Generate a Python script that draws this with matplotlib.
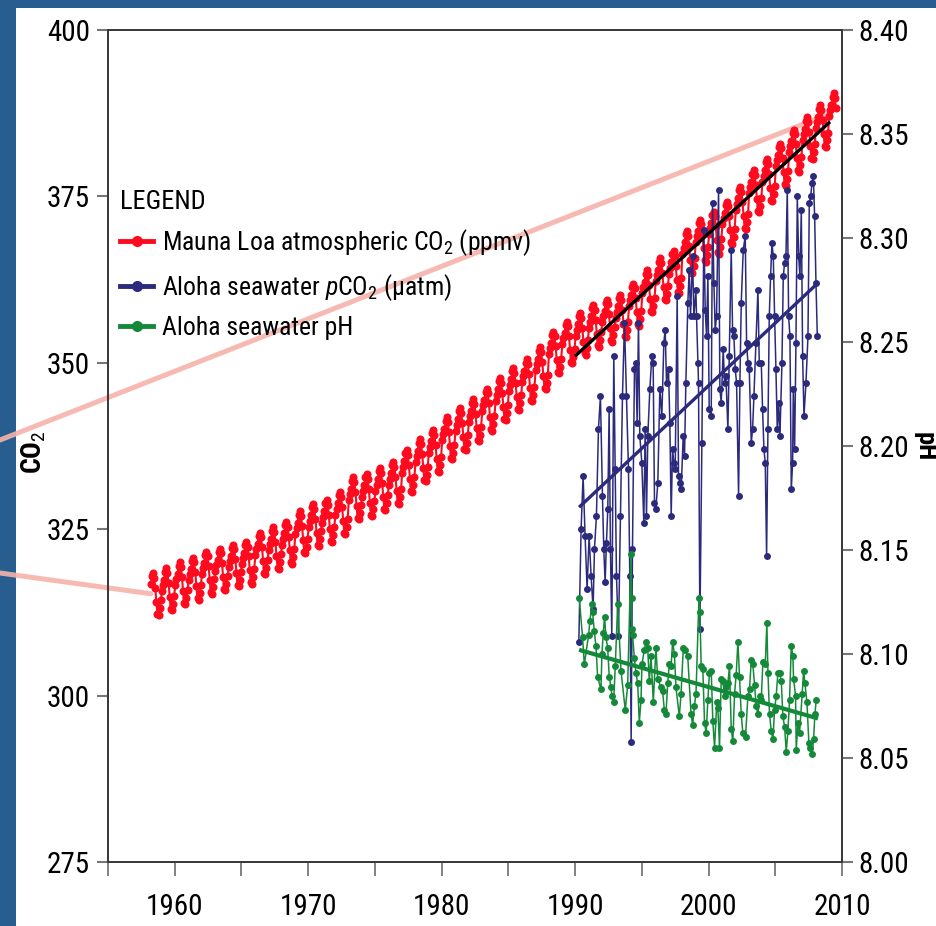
import numpy as np
import matplotlib
matplotlib.use("Agg")
import matplotlib.pyplot as plt
from matplotlib import font_manager
from matplotlib.lines import Line2D
from matplotlib.patches import Rectangle, ConnectionPatch

# ---- data ----
# Mauna Loa: annual means (ppmv) + mean seasonal offsets (Jan..Dec)
co2_years = list(range(1958, 2010))
co2_annual = [315.3, 316.0, 316.9, 317.6, 318.5, 319.0, 319.6, 320.0, 321.4, 322.2,
              323.0, 324.6, 325.7, 326.3, 327.5, 329.7, 330.2, 331.1, 332.0, 333.8,
              335.4, 336.8, 338.7, 340.1, 341.4, 343.0, 344.6, 346.1, 347.4, 349.2,
              351.6, 353.1, 354.4, 355.6, 356.4, 357.1, 358.8, 360.8, 362.6, 363.7,
              366.7, 368.4, 369.6, 371.1, 373.3, 375.8, 377.5, 379.8, 381.9, 383.8,
              385.6, 387.4]
co2_season = [-0.3, 0.6, 1.4, 2.6, 3.1, 2.4, 0.9, -1.2, -3.0, -3.2, -2.2, -1.0]
co2_first_month = 2   # March 1958
co2_last_month = 6    # July 2009

# Aloha seawater pCO2 (uatm)
pco2_years = [1990.28, 1990.45, 1990.6, 1990.75, 1990.9, 1991.05, 1991.2, 1991.35, 1991.45, 1991.6,
              1991.75, 1991.9, 1992.05, 1992.15, 1992.25, 1992.35, 1992.45, 1992.55, 1992.65, 1992.75,
              1992.9, 1993.0, 1993.1, 1993.25, 1993.4, 1993.55, 1993.7, 1993.85, 1994.0, 1994.1,
              1994.2, 1994.3, 1994.45, 1994.55, 1994.65, 1994.75, 1994.85, 1995.0, 1995.15, 1995.25,
              1995.35, 1995.45, 1995.6, 1995.75, 1995.85, 1995.95, 1996.05, 1996.2, 1996.35, 1996.5,
              1996.65, 1996.75, 1996.85, 1997.0, 1997.1, 1997.2, 1997.3, 1997.4, 1997.5, 1997.65,
              1997.75, 1997.85, 1997.95, 1998.1, 1998.2, 1998.3, 1998.45, 1998.55, 1998.65, 1998.8,
              1998.9, 1999.05, 1999.1, 1999.2, 1999.25, 1999.35, 1999.5, 1999.65, 1999.75, 1999.85,
              1999.95, 2000.05, 2000.2, 2000.3, 2000.4, 2000.5, 2000.6, 2000.75, 2000.85, 2000.95,
              2001.1, 2001.2, 2001.3, 2001.45, 2001.55, 2001.7, 2001.8, 2001.9, 2002.0, 2002.1,
              2002.25, 2002.35, 2002.45, 2002.6, 2002.75, 2002.85, 2002.95, 2003.05, 2003.2, 2003.3,
              2003.4, 2003.55, 2003.7, 2003.8, 2003.95, 2004.05, 2004.15, 2004.25, 2004.35, 2004.45,
              2004.55, 2004.65, 2004.75, 2004.85, 2004.95, 2005.05, 2005.15, 2005.25, 2005.35, 2005.5,
              2005.6, 2005.7, 2005.8, 2005.9, 2006.0, 2006.1, 2006.2, 2006.3, 2006.35, 2006.45,
              2006.55, 2006.65, 2006.75, 2006.85, 2006.95, 2007.05, 2007.15, 2007.3, 2007.45, 2007.55,
              2007.65, 2007.75, 2007.85, 2007.95, 2008.05, 2008.15]
pco2_vals = [308, 325, 333, 324, 316, 324, 318, 313, 322, 327,
             340, 345, 330, 322, 317, 323, 328, 343, 322, 309,
             351, 334, 318, 309, 327, 345, 356, 345, 334, 318,
             293, 322, 349, 350, 341, 356, 339, 335, 326, 340,
             327, 339, 346, 351, 350, 329, 328, 332, 346, 342,
             353, 355, 347, 349, 341, 327, 337, 335, 334, 360,
             333, 332, 331, 339, 336, 347, 359, 364, 357, 366,
             357, 361, 357, 350, 347, 310, 338, 370, 358, 354,
             363, 343, 342, 374, 362, 355, 357, 376, 346, 344,
             352, 347, 348, 340, 351, 367, 355, 354, 349, 347,
             330, 347, 359, 367, 369, 353, 350, 349, 338, 340,
             345, 353, 361, 350, 350, 343, 337, 335, 321, 340,
             357, 363, 368, 366, 357, 349, 340, 344, 339, 350,
             363, 365, 366, 376, 357, 354, 331, 335, 346, 337,
             353, 375, 366, 363, 373, 351, 342, 347, 354, 374,
             375, 377, 378, 372, 362, 354]

# Aloha seawater pH
ph_years = [1990.31, 1990.56, 1990.69, 1991.01, 1991.11, 1991.26, 1991.31, 1991.44, 1991.56, 1991.69,
            1991.94, 1992.01, 1992.11, 1992.21, 1992.31, 1992.44, 1992.56, 1992.69, 1992.76, 1992.89,
            1993.01, 1993.19, 1993.44, 1993.76, 1993.94, 1994.19, 1994.24, 1994.26, 1994.31, 1994.44,
            1994.56, 1994.69, 1994.81, 1994.94, 1995.01, 1995.19, 1995.31, 1995.44, 1995.56, 1995.69,
            1995.86, 1996.06, 1996.19, 1996.44, 1996.56, 1996.69, 1996.81, 1996.94, 1997.06, 1997.19,
            1997.31, 1997.44, 1997.56, 1997.81, 1997.94, 1998.11, 1998.26, 1998.44, 1998.69, 1998.81,
            1998.94, 1999.06, 1999.28, 1999.35, 1999.45, 1999.57, 1999.70, 1999.82, 1999.95, 2000.07,
            2000.20, 2000.32, 2000.45, 2000.62, 2000.70, 2000.82, 2000.95, 2001.07, 2001.20, 2001.32,
            2001.45, 2001.57, 2001.70, 2001.82, 2001.95, 2002.07, 2002.20, 2002.32, 2002.45, 2002.57,
            2002.77, 2002.95, 2003.07, 2003.20, 2003.32, 2003.45, 2003.57, 2003.70, 2003.82, 2003.95,
            2004.07, 2004.25, 2004.37, 2004.45, 2004.57, 2004.70, 2004.82, 2004.95, 2005.07, 2005.20,
            2005.32, 2005.45, 2005.57, 2005.70, 2005.82, 2005.95, 2006.07, 2006.20, 2006.32, 2006.37,
            2006.52, 2006.57, 2006.70, 2006.82, 2007.02, 2007.12, 2007.22, 2007.37, 2007.52, 2007.62,
            2007.77, 2007.87, 2007.97, 2008.07]
ph_vals = [8.127, 8.108, 8.095, 8.109, 8.116, 8.124, 8.120, 8.111, 8.104, 8.089,
           8.083, 8.100, 8.110, 8.118, 8.108, 8.103, 8.089, 8.084, 8.080, 8.077,
           8.094, 8.124, 8.092, 8.073, 8.085, 8.148, 8.127, 8.112, 8.109, 8.098,
           8.091, 8.086, 8.067, 8.078, 8.095, 8.102, 8.106, 8.103, 8.087, 8.099,
           8.077, 8.103, 8.088, 8.084, 8.082, 8.073, 8.071, 8.086, 8.095, 8.094,
           8.106, 8.100, 8.084, 8.070, 8.081, 8.103, 8.102, 8.099, 8.071, 8.066,
           8.075, 8.081, 8.127, 8.120, 8.094, 8.093, 8.067, 8.062, 8.078, 8.091,
           8.092, 8.068, 8.055, 8.077, 8.074, 8.055, 8.088, 8.087, 8.080, 8.084,
           8.086, 8.094, 8.064, 8.058, 8.081, 8.090, 8.106, 8.089, 8.071, 8.062,
           8.060, 8.080, 8.083, 8.097, 8.095, 8.085, 8.075, 8.071, 8.080, 8.078,
           8.096, 8.095, 8.115, 8.091, 8.071, 8.063, 8.059, 8.073, 8.080, 8.091,
           8.091, 8.087, 8.070, 8.065, 8.053, 8.063, 8.078, 8.104, 8.099, 8.088,
           8.080, 8.054, 8.067, 8.062, 8.081, 8.092, 8.086, 8.077, 8.057, 8.055,
           8.052, 8.059, 8.071, 8.078]

# linear trend end points
co2_trend_x, co2_trend_y = [1990.0, 2009.1], [351.0, 386.2]
pco2_trend_x, pco2_trend_y = [1990.3, 2008.2], [328.3, 362.0]
ph_trend_x, ph_trend_y = [1990.3, 2008.2], [8.102, 8.069]

# ---- style ----
# pick a condensed face if one is installed
fonts = font_manager.fontManager.ttflist
names = {f.name for f in fonts}
stretch = "normal"
if "Roboto Condensed" in names:
    base = "Roboto Condensed"
elif "Liberation Sans Narrow" in names:
    base = "Liberation Sans Narrow"
elif any(f.name == "DejaVu Sans" and f.stretch in ("condensed", "semi-condensed") for f in fonts):
    base = "DejaVu Sans"
    stretch = "condensed"
else:
    base = "Liberation Sans"
narrow = base != "Liberation Sans"
fs = 21 if narrow else 18
lfs = 18.5 if narrow else 16
plt.rcParams["font.family"] = [base, "DejaVu Sans"]
plt.rcParams["font.stretch"] = stretch
plt.rcParams["mathtext.fontset"] = "custom"
plt.rcParams["mathtext.rm"] = base
plt.rcParams["mathtext.it"] = base + ":italic"

RED = "#ff0a1e"
BLUE = "#2c2a7c"
GREEN = "#15893a"
PINK = "#f5b3aa"
FRAME = "#275d8f"
SPINE = "#3a3a3a"
TICK = "#777777"

# monthly Mauna Loa series
co2_t, co2_v = [], []
for i, yr in enumerate(co2_years):
    for m in range(12):
        if yr == co2_years[0] and m < co2_first_month:
            continue
        if yr == co2_years[-1] and m > co2_last_month:
            continue
        co2_t.append(yr + (m + 0.5) / 12)
        co2_v.append(co2_annual[i] + co2_season[m])

fig = plt.figure(figsize=(9.36, 9.26), dpi=100)
fig.patch.set_facecolor("white")
# blue frame on top and left
fig.add_artist(Rectangle((0, 1 - 8 / 926), 1, 8 / 926, transform=fig.transFigure,
                         facecolor=FRAME, edgecolor="none", zorder=-5))
fig.add_artist(Rectangle((0, 0), 16 / 936, 1, transform=fig.transFigure,
                         facecolor=FRAME, edgecolor="none", zorder=-5))

ax = fig.add_axes([108 / 936, 64 / 926, 734 / 936, 832 / 926])
ax.set_facecolor("none")
ax2 = ax.twinx()

ax.set_xlim(1955, 2010)
ax.set_ylim(275, 400)
ax2.set_ylim(8.00, 8.40)

# callout lines
for fy, pt in [(1 - 440 / 926, (co2_years[-1] + 0.05, co2_annual[-1])),
               (1 - 573 / 926, (co2_t[0], co2_annual[0]))]:
    cp = ConnectionPatch(xyA=(0, fy), coordsA="figure fraction", xyB=pt, coordsB=ax.transData,
                         color=PINK, lw=3.6, alpha=0.9, zorder=0.5, clip_on=False)
    ax.add_artist(cp)

ax.plot(co2_t, co2_v, color=RED, lw=1.5, marker="o", ms=5.8, mec="none", zorder=2)
ax.plot(pco2_years, pco2_vals, color=BLUE, lw=1.1, marker="o", ms=5, mec="none", zorder=3)
ax.plot(co2_trend_x, co2_trend_y, color="black", lw=2.4, zorder=4, solid_capstyle="butt")
ax.plot(pco2_trend_x, pco2_trend_y, color=BLUE, lw=2.4, zorder=4, solid_capstyle="butt")
ax2.plot(ph_years, ph_vals, color=GREEN, lw=1.1, marker="o", ms=5, mec="none", zorder=3)
ax2.plot(ph_trend_x, ph_trend_y, color=GREEN, lw=3.0, zorder=4, solid_capstyle="butt")

# ticks
ax.set_xticks(range(1960, 2011, 10))
ax.set_xticks(range(1955, 2010, 10), minor=True)
ax.set_yticks(range(275, 401, 25))
ax2.set_yticks([8.00, 8.05, 8.10, 8.15, 8.20, 8.25, 8.30, 8.35, 8.40])
ax2.set_yticklabels(["%.2f" % v for v in ax2.get_yticks()])
ax.tick_params(axis="x", which="both", direction="out", length=10, width=1.3,
               color=TICK, labelsize=fs, pad=12)
ax.tick_params(axis="y", direction="out", length=8, width=1.5, color=TICK,
               labelsize=fs, pad=5)
ax2.tick_params(axis="y", direction="out", length=8, width=1.5, color=TICK,
                labelsize=fs, pad=4)
for a in (ax, ax2):
    for s in a.spines.values():
        s.set_color(SPINE)
        s.set_linewidth(1.3)

fig.text(34 / 936, 1 - 452 / 926, "CO$_2$", rotation=90, ha="center", va="center",
         fontsize=fs - 1, fontweight="bold")
fig.text(925 / 936, 1 - 447 / 926, "pH", rotation=270, ha="center", va="center",
         fontsize=fs - 2, fontweight="bold")

handles = [Line2D([], [], color=RED, lw=3.5, marker="o", ms=8, mec="none"),
           Line2D([], [], color=BLUE, lw=3.5, marker="o", ms=8, mec="none"),
           Line2D([], [], color=GREEN, lw=3.5, marker="o", ms=8, mec="none")]
labels = ["Mauna Loa atmospheric CO$_2$ (ppmv)",
          "Aloha seawater $\\mathit{p}$CO$_2$ ($\\mathrm{\u00b5}$atm)",
          "Aloha seawater pH"]
leg = ax.legend(handles, labels, title="LEGEND", loc="upper left",
                bbox_to_anchor=(12 / 734, (862 - 190) / 832), frameon=False,
                fontsize=lfs, title_fontsize=lfs + 0.5, alignment="left",
                handlelength=1.3, handletextpad=0.35, labelspacing=0.52,
                borderpad=0, borderaxespad=0)
leg.set_zorder(6)

fig.savefig("out.png", dpi=100)
